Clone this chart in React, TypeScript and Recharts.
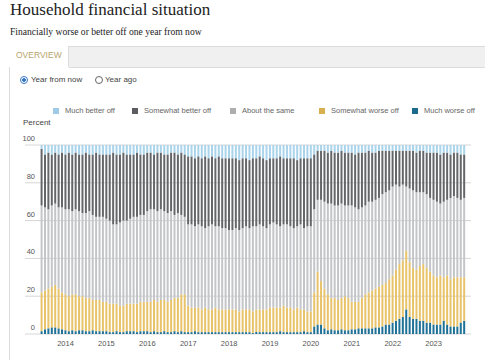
import { BarChart, Bar, XAxis, YAxis, CartesianGrid } from "recharts";

// monthly survey readings, Jun 2013 - Oct 2023 (percent of respondents)
const MUCH_WORSE = [
  1.5, 2.5, 3, 3.5, 3.5, 3, 2.5, // 2013
  2, 1.5, 2, 1.5, 2, 2, 1.5, 1.5, 2, 1.5, 1.5, 1.5, // 2014
  1.5, 1, 1, 1.5, 1, 1, 1.5, 1.5, 1.5, 1, 1.5, 1.5, // 2015
  1.5, 1, 1.5, 1, 1, 1.5, 1, 1, 1.5, 1, 1.5, 1, // 2016
  1, 1, 1.5, 1, 1, 1, 1, 1, 1, 1, 1, 1, // 2017
  1, 1, 1, 1, 1, 1, 1, 0.5, 1, 1, 1, 1, // 2018
  1, 1, 1, 1.5, 1, 1, 1, 1, 1, 1, 1.5, 1, // 2019
  1, 4, 5, 5, 3, 2, 2.5, 2, 2, 2.5, 2, 2, // 2020
  2.5, 2.5, 3, 3, 3, 3, 3, 3.5, 3.5, 4, 5, 5, // 2021
  6, 7, 8, 9, 13, 9, 8, 8, 7, 7, 6, 6, // 2022
  5, 5, 5, 7, 5, 4, 4, 4, 6, 7, // 2023
];

const SOMEWHAT_WORSE = [
  20.5, 20.5, 21, 21.5, 22.5, 21, 19.5,
  19, 18.5, 19, 19.5, 18, 18, 17.5, 17.5, 16, 16.5, 16.5, 15.5,
  15.5, 15, 15, 14.5, 14, 14, 14.5, 14.5, 14.5, 15, 15.5, 15.5,
  15.5, 16, 16.5, 16, 17, 16.5, 16, 17, 17.5, 18, 19.5, 20,
  14, 13, 12.5, 13, 12, 13, 12, 12, 13, 12, 12, 12,
  12, 12, 12, 11, 12, 12, 12, 11.5, 12, 12, 12, 12,
  13, 13, 13, 12.5, 14, 13, 13, 12, 13, 12, 11.5, 11,
  11, 18, 28, 23, 21, 19, 16.5, 17, 16, 16.5, 18, 17,
  14.5, 14.5, 14, 16, 18, 19, 20, 20.5, 21.5, 22, 22, 24,
  25, 27, 29, 30, 31, 29, 27, 26, 29, 30, 29, 27,
  26, 25, 26, 23, 26, 25, 26, 26, 24, 23,
];

const ABOUT_SAME = [
  46, 44, 42, 43, 43, 43, 45,
  45, 46, 44, 45, 45, 44, 45, 46, 45, 44, 44, 45,
  44, 44, 42, 42, 44, 45, 44, 45, 46, 46, 46, 46,
  48, 49, 48, 48, 48, 47, 47, 47, 44, 45, 42, 41,
  43, 44, 43, 44, 44, 42, 44, 45, 43, 44, 43, 43,
  42, 42, 43, 43, 43, 44, 43, 45, 44, 45, 44, 43,
  44, 45, 44, 43, 43, 44, 43, 43, 43, 45, 43, 45,
  45, 44, 38, 43, 46, 48, 50, 49, 50, 50, 48, 49,
  51, 50, 49, 48, 47, 48, 47, 47, 47, 48, 48, 47,
  47, 45, 41, 40, 34, 39, 41, 41, 39, 38, 39, 39,
  40, 40, 38, 40, 40, 43, 43, 42, 41, 42,
];

const SOMEWHAT_BETTER = [
  30, 28, 30, 27, 27, 28, 29,
  29, 30, 30, 30, 30, 31, 32, 30, 32, 34, 33, 33,
  34, 35, 38, 37, 36, 36, 35, 34, 33, 34, 32, 32,
  31, 30, 29, 31, 30, 30, 31, 31, 33, 31, 33, 33,
  36, 36, 36, 36, 36, 38, 36, 36, 36, 37, 37, 37,
  38, 38, 37, 37, 37, 36, 36, 36, 36, 36, 36, 36,
  35, 34, 35, 37, 35, 35, 36, 37, 35, 35, 37, 36,
  36, 29, 26, 26, 27, 27, 28, 28, 28, 28, 28, 28,
  28, 28, 30, 29, 28, 27, 26, 25, 25, 23, 22, 21,
  19, 18, 19, 18, 19, 20, 21, 21, 22, 22, 22, 24,
  25, 26, 26, 26, 25, 23, 23, 24, 24, 23,
];

const MUCH_BETTER = [
  2, 5, 4, 5, 4, 5, 4,
  5, 4, 5, 4, 5, 5, 4, 5, 5, 4, 5, 5,
  5, 5, 4, 5, 5, 4, 5, 5, 5, 4, 5, 5,
  4, 4, 5, 4, 4, 5, 5, 4, 4, 5, 4, 5,
  6, 6, 7, 6, 7, 6, 7, 6, 7, 6, 7, 7,
  7, 7, 7, 8, 7, 7, 8, 7, 7, 6, 7, 8,
  7, 7, 7, 6, 7, 7, 7, 7, 8, 7, 7, 7,
  7, 5, 3, 3, 3, 4, 3, 4, 4, 3, 4, 4,
  4, 5, 4, 4, 4, 3, 4, 4, 3, 3, 3, 3,
  3, 3, 3, 3, 3, 3, 3, 4, 3, 3, 4, 4,
  4, 4, 5, 4, 4, 5, 4, 4, 5, 5,
];

const YEAR_TICKS = ["2014", "2015", "2016", "2017", "2018", "2019", "2020", "2021", "2022", "2023"];
const Y_TICKS = [0, 20, 40, 60, 80, 100];

const SERIES = [
  { key: "muchWorse", name: "Much worse off", color: "#1f7196" },
  { key: "somewhatWorse", name: "Somewhat worse off", color: "#e8c36a" },
  { key: "aboutSame", name: "About the same", color: "#c3c5c8" },
  { key: "somewhatBetter", name: "Somewhat better off", color: "#64666a" },
  { key: "muchBetter", name: "Much better off", color: "#a9d4ec" },
];

const LEGEND_COLORS: Record<string, string> = {
  muchBetter: "#9fcbe6",
  somewhatBetter: "#5b5d60",
  aboutSame: "#aeaeae",
  somewhatWorse: "#d8b050",
  muchWorse: "#1d6b8c",
};

// month keys "YYYY-MM" starting Jun 2013
const data = MUCH_WORSE.map((_, i) => {
  const m = 5 + i;
  const year = 2013 + Math.floor(m / 12);
  const month = (m % 12) + 1;
  return {
    month: `${year}-${month < 10 ? "0" + month : month}`,
    muchWorse: MUCH_WORSE[i],
    somewhatWorse: SOMEWHAT_WORSE[i],
    aboutSame: ABOUT_SAME[i],
    somewhatBetter: SOMEWHAT_BETTER[i],
    muchBetter: MUCH_BETTER[i],
  };
});

const xTicks = YEAR_TICKS.map((y) => `${y}-01`);

const sans = "'Liberation Sans', Arial, sans-serif";
const serif = "'Liberation Serif', Georgia, serif";

function YTick(props: any) {
  const { y, payload } = props;
  return (
    <g>
      <line x1={25} x2={40} y1={y} y2={y} stroke="#d6d6d6" />
      <line x1={466} x2={471} y1={y} y2={y} stroke="#d6d6d6" />
      <text x={35} y={y - 4} textAnchor="end" fontSize={7.5} fill="#555" fontFamily={sans}>
        {payload.value}
      </text>
    </g>
  );
}

function Radio({ checked }: { checked: boolean }) {
  return (
    <span
      style={{
        display: "inline-block",
        boxSizing: "border-box",
        width: 8,
        height: 8,
        borderRadius: "50%",
        border: checked ? "1.5px solid #3b78c8" : "1px solid #666",
        background: checked ? "radial-gradient(circle, #3b78c8 45%, #fff 50%)" : "#fff",
      }}
    />
  );
}

export default function App() {
  const legendOrder = ["muchBetter", "somewhatBetter", "aboutSame", "somewhatWorse", "muchWorse"];
  const legendX = [53, 132, 230, 319, 412];
  return (
    <div
      style={{
        position: "absolute",
        left: 0,
        top: 0,
        width: 485,
        height: 360,
        overflow: "hidden",
        background: "#fff",
      }}
    >
      <div style={{ position: "absolute", left: 10, top: 1, fontFamily: serif, fontSize: 17, lineHeight: "17px", color: "#222", whiteSpace: "nowrap" }}>
        Household financial situation
      </div>
      <div style={{ position: "absolute", left: 10, top: 26.5, fontFamily: serif, fontSize: 9.6, lineHeight: "9.6px", color: "#222", whiteSpace: "nowrap" }}>
        Financially worse or better off one year from now
      </div>

      {/* panel with tab */}
      <div style={{ position: "absolute", left: 9, top: 46, width: 480, height: 320, borderLeft: "1px solid #dcdcdc", borderTop: "1px solid #dcdcdc" }} />
      <div style={{ position: "absolute", left: 69, top: 46, width: 420, height: 20, background: "#f0f0f0", borderBottom: "1px solid #dcdcdc", borderTop: "1px solid #dcdcdc" }} />
      <div style={{ position: "absolute", left: 9, top: 46, width: 60, height: 21, background: "#fff", borderRight: "1px solid #dcdcdc", boxSizing: "border-box" }} />
      <div style={{ position: "absolute", left: 16, top: 51, fontFamily: sans, fontSize: 8.5, lineHeight: "8.5px", color: "#b8a56c", whiteSpace: "nowrap" }}>
        OVERVIEW
      </div>

      <div style={{ position: "absolute", left: 20, top: 75, display: "flex", alignItems: "center", fontFamily: sans, fontSize: 8, color: "#444", whiteSpace: "nowrap" }}>
        <Radio checked />
        <span style={{ marginLeft: 3 }}>Year from now</span>
      </div>
      <div style={{ position: "absolute", left: 95, top: 75, display: "flex", alignItems: "center", fontFamily: sans, fontSize: 8, color: "#444", whiteSpace: "nowrap" }}>
        <Radio checked={false} />
        <span style={{ marginLeft: 2 }}>Year ago</span>
      </div>

      {/* legend */}
      {legendOrder.map((k, i) => {
        const s = SERIES.find((d) => d.key === k)!;
        return (
          <div key={k} style={{ position: "absolute", left: legendX[i], top: 106, display: "flex", alignItems: "center", fontFamily: sans, fontSize: 7.5, color: "#666", whiteSpace: "nowrap" }}>
            <span style={{ display: "inline-block", width: 6, height: 6, background: LEGEND_COLORS[k] }} />
            <span style={{ marginLeft: 6 }}>{s.name}</span>
          </div>
        );
      })}

      <div style={{ position: "absolute", left: 23, top: 119, fontFamily: sans, fontSize: 8, lineHeight: "8px", color: "#444", whiteSpace: "nowrap" }}>
        Percent
      </div>

      <div style={{ position: "absolute", left: 0, top: 100 }}>
        <BarChart
          width={485}
          height={260}
          data={data}
          margin={{ top: 45, right: 19, bottom: 6, left: 0 }}
          barCategoryGap="17%"
        >
          <CartesianGrid vertical={false} stroke="#d6d6d6" />
          <XAxis
            dataKey="month"
            ticks={xTicks}
            interval={0}
            tickFormatter={(v: string) => v.slice(0, 4)}
            axisLine={false}
            tickLine={false}
            tickMargin={1}
            height={20}
            tick={{ fontSize: 7.5, fill: "#555", fontFamily: sans }}
          />
          <YAxis
            domain={[0, 100]}
            ticks={Y_TICKS}
            width={40}
            axisLine={false}
            tickLine={false}
            tick={<YTick />}
            allowDataOverflow
          />
          {SERIES.map((s) => (
            <Bar key={s.key} dataKey={s.key} name={s.name} stackId="a" fill={s.color} isAnimationActive={false} />
          ))}
        </BarChart>
      </div>
    </div>
  );
}
